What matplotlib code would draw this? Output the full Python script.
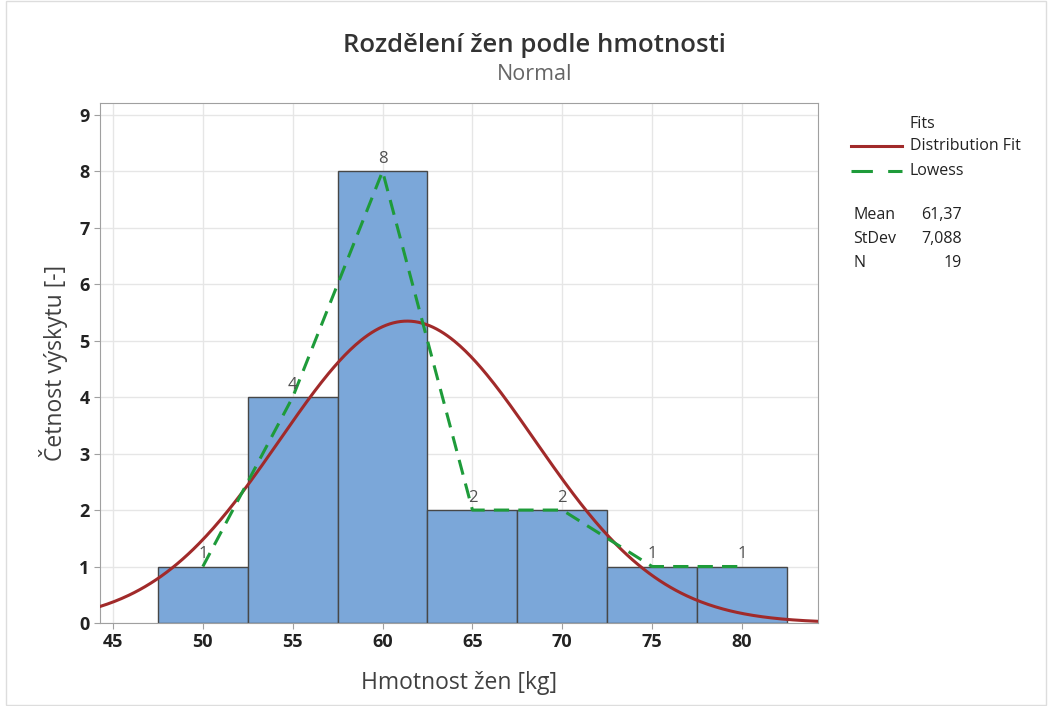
import numpy as np
import matplotlib.pyplot as plt
from matplotlib.lines import Line2D

plt.rcParams['font.family'] = ['Open Sans', 'DejaVu Sans']

# data
bin_centers = [50, 55, 60, 65, 70, 75, 80]
counts = [1, 4, 8, 2, 2, 1, 1]
bin_width = 5
mean = 61.37
stdev = 7.088
n = 19
x_ticks = [45, 50, 55, 60, 65, 70, 75, 80]
y_ticks = [0, 1, 2, 3, 4, 5, 6, 7, 8, 9]

bar_color = '#7ba7d9'
red = '#a12a2a'
green = '#1e9b3a'

fig = plt.figure(figsize=(10.52, 7.06), dpi=100)
ax = fig.add_axes([0.0951, 0.1176, 0.6825, 0.7365])

ax.bar(bin_centers, counts, width=bin_width, color=bar_color,
       edgecolor='#474747', linewidth=1.0, zorder=2)

for c, v in zip(bin_centers, counts):
    ax.text(c, v + 0.08, str(v), ha='center', va='bottom',
            fontsize=12, color='#505050', zorder=5)

# normal fit scaled to counts
xs = np.linspace(44.28, 84.23, 400)
pdf = np.exp(-0.5 * ((xs - mean) / stdev) ** 2) / (stdev * np.sqrt(2 * np.pi))
ax.plot(xs, pdf * n * bin_width, color=red, linewidth=2.2, zorder=4)

# lowess line
ax.plot(bin_centers, counts, color=green, linewidth=2.2,
        dashes=(5, 3), zorder=4)

ax.set_xlim(44.28, 84.23)
ax.set_ylim(0, 9.21)
ax.set_xticks(x_ticks)
ax.set_yticks(y_ticks)
ax.grid(True, color='#e6e6e6', linewidth=1.0, zorder=0)
ax.set_axisbelow(True)
for s in ax.spines.values():
    s.set_color('#a0a0a0')
ax.tick_params(colors='#a0a0a0', labelcolor='#222222', labelsize=13,
               length=4)
for lbl in ax.get_xticklabels() + ax.get_yticklabels():
    lbl.set_fontweight('bold')

ax.set_xlabel('Hmotnost žen [kg]', fontsize=16.5, color='#404040', labelpad=14)
ax.set_ylabel('Četnost výskytu [-]', fontsize=16.5, color='#404040', labelpad=8)

fig.text(0.508, 0.936, 'Rozdělení žen podle hmotnosti', ha='center',
         va='center', fontsize=18.5, color='#333333', fontweight='semibold')
fig.text(0.508, 0.895, 'Normal', ha='center', va='center',
         fontsize=15.5, color='#666666')

# legend
fig.text(0.865, 0.825, 'Fits', fontsize=11.5, color='#222222', va='center')
fig.add_artist(Line2D([0.809, 0.857], [0.793, 0.793], color=red, linewidth=2.2))
fig.add_artist(Line2D([0.809, 0.857], [0.758, 0.758], color=green,
                      linewidth=2.2, dashes=(7, 5)))
fig.text(0.865, 0.793, 'Distribution Fit', fontsize=11.5, color='#222222',
         va='center')
fig.text(0.865, 0.758, 'Lowess', fontsize=11.5, color='#222222', va='center')

stats = [('Mean', '61,37'), ('StDev', '7,088'), ('N', str(n))]
for i, (k, v) in enumerate(stats):
    y = 0.696 - i * 0.034
    fig.text(0.811, y, k, fontsize=11.5, color='#222222', va='center')
    fig.text(0.914, y, v, fontsize=11.5, color='#222222', va='center',
             ha='right')

# light frame around figure
fig.add_artist(plt.Rectangle((0.006, 0.002), 0.988, 0.996, fill=False,
                             edgecolor='#dddddd', linewidth=1.0,
                             transform=fig.transFigure))

fig.savefig('out.png', dpi=100)
